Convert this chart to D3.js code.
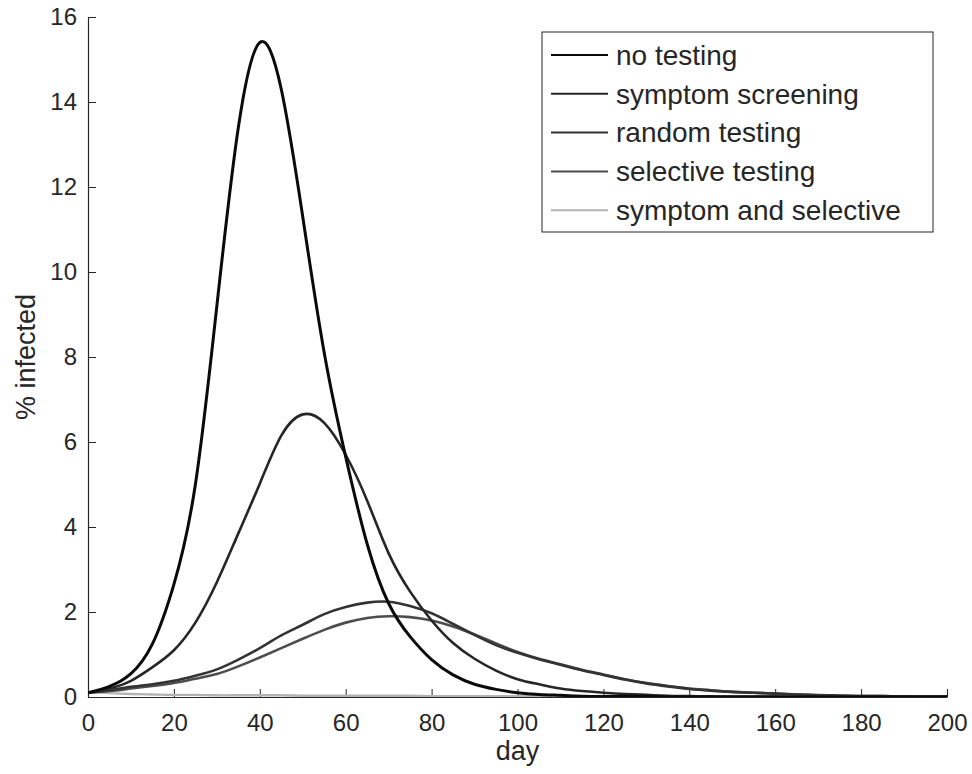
<!DOCTYPE html>
<html>
<head>
<meta charset="utf-8">
<script src="https://cdn.jsdelivr.net/npm/d3@7"></script>
<style>
    body { margin: 0; background: #fff; }
    text { font-family: "Liberation Sans", Arial, sans-serif; fill: #262626; }
</style>
</head>
<body>
<div class="chart"></div>
<script>
// x values (day)
var days = [0, 5, 10, 15, 20, 25, 30, 35, 40, 45, 50, 55, 60, 65, 70, 75, 80, 85, 90, 95, 100,
    105, 110, 115, 120, 125, 130, 135, 140, 145, 150, 155, 160, 165, 170, 175, 180, 185, 190, 195, 200];

// % infected per strategy
var noTesting = [0.1, 0.25, 0.55, 1.25, 2.65, 5.0, 9.2, 13.4, 15.4, 14.3, 11.3, 8.1, 5.65, 3.6, 2.2,
    1.42, 0.88, 0.52, 0.3, 0.18, 0.1, 0.06, 0.04, 0.02, 0.01, 0.01, 0.01, 0, 0, 0,
    0, 0, 0, 0, 0, 0, 0, 0, 0, 0, 0];
var symptomScreening = [0.1, 0.2, 0.38, 0.7, 1.1, 1.75, 2.7, 3.85, 5.02, 6.15, 6.65, 6.45, 5.7, 4.62, 3.38,
    2.48, 1.8, 1.27, 0.9, 0.62, 0.42, 0.3, 0.2, 0.14, 0.1, 0.07, 0.05, 0.03, 0.02, 0.015,
    0.01, 0.01, 0.01, 0, 0, 0, 0, 0, 0, 0, 0];
var randomTesting = [0.1, 0.16, 0.24, 0.3, 0.38, 0.5, 0.65, 0.88, 1.15, 1.45, 1.7, 1.95, 2.12, 2.22, 2.24,
    2.14, 1.97, 1.72, 1.46, 1.22, 1.04, 0.89, 0.76, 0.63, 0.52, 0.41, 0.32, 0.25, 0.19, 0.15,
    0.12, 0.1, 0.08, 0.06, 0.04, 0.03, 0.02, 0.02, 0.01, 0.01, 0.01];
var selectiveTesting = [0.1, 0.14, 0.2, 0.26, 0.33, 0.43, 0.54, 0.72, 0.93, 1.15, 1.37, 1.58, 1.75, 1.86, 1.9,
    1.88, 1.8, 1.66, 1.47, 1.26, 1.06, 0.9, 0.77, 0.64, 0.53, 0.42, 0.33, 0.26, 0.2, 0.16,
    0.12, 0.1, 0.08, 0.06, 0.045, 0.035, 0.025, 0.02, 0.015, 0.01, 0.01];
var symptomSelective = [0.12, 0.09, 0.07, 0.06, 0.05, 0.05, 0.04, 0.04, 0.04, 0.04, 0.03, 0.03, 0.03, 0.03, 0.03,
    0.03, 0.02, 0.02, 0.02, 0.02, 0.02, 0.02, 0.02, 0.02, 0.02, 0.02, 0.01, 0.01, 0.01, 0.01,
    0.01, 0.01, 0.01, 0.01, 0.01, 0.01, 0.01, 0.01, 0.01, 0.01, 0.01];

var seriesNames = ["no testing", "symptom screening", "random testing", "selective testing", "symptom and selective"];
var seriesValues = [noTesting, symptomScreening, randomTesting, selectiveTesting, symptomSelective];
var seriesColors = ["#0a0a0a", "#262626", "#333333", "#4d4d4d", "#b3b3b3"];
var seriesWidths = [3, 2.6, 2.6, 2.6, 2.4];

var xTicks = [0, 20, 40, 60, 80, 100, 120, 140, 160, 180, 200];
var yTicks = [0, 2, 4, 6, 8, 10, 12, 14, 16];

var margin = { top: 17, right: 25, bottom: 77, left: 88 },
    width = 972 - margin.left - margin.right,
    height = 774 - margin.top - margin.bottom;

var x = d3.scaleLinear().domain([0, 200]).range([0, width]);
var y = d3.scaleLinear().domain([0, 16]).range([height, 0]);

var svg = d3.select(".chart").append("svg")
    .attr("width", 972)
    .attr("height", 774)
    .append("g")
    .attr("transform", "translate(" + margin.left + "," + margin.top + ")");

// axes, ticks point inward like matlab
var xAxis = svg.append("g")
    .attr("transform", "translate(0," + height + ")")
    .call(d3.axisBottom(x).tickValues(xTicks).tickSizeInner(-8).tickSizeOuter(0).tickPadding(17));
var yAxis = svg.append("g")
    .call(d3.axisLeft(y).tickValues(yTicks).tickSizeInner(-8).tickSizeOuter(0).tickPadding(11));

[xAxis, yAxis].forEach(function (a) {
    a.select(".domain").attr("stroke", "#262626").attr("stroke-width", 1.2);
    a.selectAll(".tick line").attr("stroke", "#262626").attr("stroke-width", 1);
    a.selectAll(".tick text")
        .style("font-size", "24px")
        .attr("fill", "#262626");
});

// clip so spline wiggles near zero never dip under the axis
svg.append("clipPath")
    .attr("id", "plotClip")
    .append("rect")
    .attr("x", 0)
    .attr("y", -5)
    .attr("width", width)
    .attr("height", height + 5);

// lines
var line = d3.line()
    .x(function (d) { return x(d[0]); })
    .y(function (d) { return y(d[1]); })
    .curve(d3.curveNatural);

// draw light one first so darker curves sit on top
var order = [4, 3, 2, 1, 0];
var lines = svg.append("g").attr("clip-path", "url(#plotClip)");
order.forEach(function (i) {
    var pts = days.map(function (d, j) { return [d, seriesValues[i][j]]; });
    lines.append("path")
        .datum(pts)
        .attr("fill", "none")
        .attr("stroke", seriesColors[i])
        .attr("stroke-width", seriesWidths[i])
        .attr("stroke-linejoin", "round")
        .attr("d", line);
});

// axis labels
svg.append("text")
    .attr("x", width / 2)
    .attr("y", height + 63)
    .attr("text-anchor", "middle")
    .style("font-size", "27px")
    .text("day");

svg.append("text")
    .attr("transform", "translate(" + (35 - margin.left) + "," + (height / 2) + ") rotate(-90)")
    .attr("text-anchor", "middle")
    .style("font-size", "27px")
    .text("% infected");

// legend
var legend = svg.append("g")
    .attr("transform", "translate(" + (542 - margin.left) + "," + (32 - margin.top) + ")");

legend.append("rect")
    .attr("width", 391)
    .attr("height", 200)
    .attr("fill", "#fff")
    .attr("stroke", "#262626")
    .attr("stroke-width", 1);

seriesNames.forEach(function (name, i) {
    var ly = 23 + i * 38.8;
    legend.append("line")
        .attr("x1", 9)
        .attr("x2", 66)
        .attr("y1", ly)
        .attr("y2", ly)
        .attr("stroke", seriesColors[i])
        .attr("stroke-width", 2);
    legend.append("text")
        .attr("x", 74)
        .attr("y", ly)
        .attr("dy", "0.35em")
        .style("font-size", "28px")
        .attr("fill", "#111")
        .text(name);
});
</script>
</body>
</html>
